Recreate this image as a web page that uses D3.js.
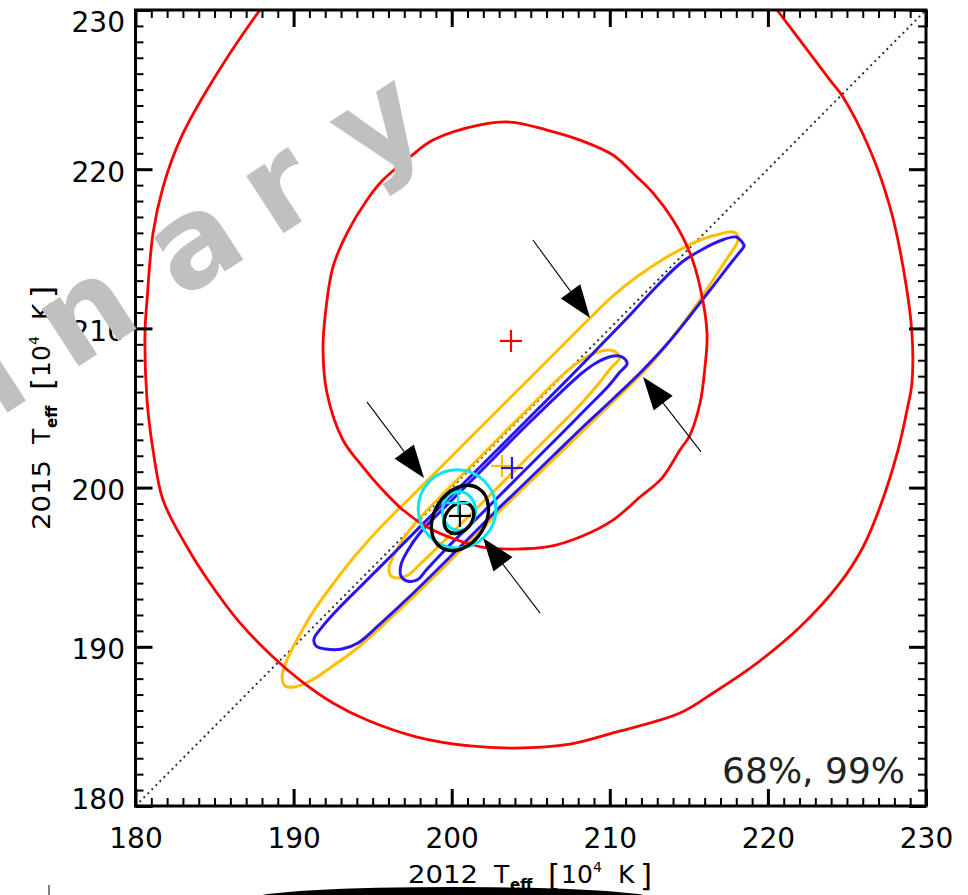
<!DOCTYPE html>
<html><head><meta charset="utf-8">
<script src="https://cdn.jsdelivr.net/npm/d3@7"></script>
<style>
body{margin:0;background:#fff;}
svg{display:block;}
</style></head><body>
<svg id="chart" width="968" height="895"></svg>
<script>
// ---------------- data ----------------
const xDomain = [180, 230];
const yDomain = [180, 230];
const majorTicks = [180, 190, 200, 210, 220, 230];
const xTitleYear = "2012";
const yTitleYear = "2015";
const confidenceLabel = "68%, 99%";
const watermarkHead = "Prelimi";
const watermarkTail = ["n", "a", "r", "y"];

// red: 68% and 99% contours
const redInner = [[203.69,222.96],[206.03,222.46],[208.12,221.83],[210.20,220.89],[211.72,219.51],[212.73,218.51],[214.00,216.81],[215.07,214.74],[215.71,212.60],[216.15,209.71],[216.02,207.58],[215.71,205.31],[215.07,203.30],[214.44,202.36],[213.30,200.60],[211.91,199.41],[210.20,197.96],[208.12,196.90],[206.03,196.27],[203.88,196.14],[202.23,196.21],[200.34,196.71],[198.44,197.53],[196.92,198.59],[195.46,200.04],[194.39,201.29],[193.12,202.99],[192.11,205.94],[191.86,208.64],[191.99,210.72],[192.49,213.86],[193.38,215.99],[194.64,218.07],[195.65,219.32],[197.36,220.77],[198.82,221.83],[201.79,222.78]];
const redOuter = [[187.87,230],[184.52,224.97],[182.81,221.83],[181.74,218.88],[181.11,215.99],[180.73,211.78],[180.60,209.71],[180.73,205.50],[181.11,202.36],[181.74,199.22],[183.26,196.27],[184.71,194.01],[186.61,191.50],[188.70,189.36],[190.40,187.91],[192.49,186.47],[194.64,185.40],[197.81,184.33],[201.16,183.77],[204.00,183.64],[207.48,183.89],[210.20,184.59],[214.44,185.84],[216.53,187.10],[219.31,188.98],[222.03,191.24],[224.56,194.01],[226.02,196.27],[227.09,198.78],[228.23,202.36],[228.80,204.87],[229.11,206.57],[229.11,209.71],[228.55,213.86],[227.72,217.63],[226.46,221.21],[224.75,224.54],[223.93,225.60],[220.58,230],[218.2,233.14],[209.4,235.03],[196.7,235.03],[190.4,233.14]];
// yellow: 68% and 99% contours
const yellowOuter = [[217.79,216.06],[216.97,215.93],[215.90,215.62],[214.76,215.11],[213.30,214.30],[211.78,213.29],[210.20,212.04],[208.75,210.65],[206.85,208.77],[204.95,206.88],[203.05,205.00],[201.16,203.12],[199.26,201.23],[197.36,199.35],[195.46,197.46],[193.88,195.70],[192.49,193.94],[191.23,192.19],[190.28,190.55],[189.58,189.17],[189.27,188.10],[189.46,187.54],[190.03,187.47],[191.04,187.85],[192.30,188.67],[193.88,189.80],[195.46,191.18],[197.36,192.94],[199.26,194.76],[201.16,196.65],[203.05,198.53],[204.95,200.35],[206.85,202.17],[208.75,204.00],[210.65,205.82],[212.42,207.58],[213.93,209.40],[215.39,211.34],[216.65,213.23],[217.60,214.67],[218.05,215.36],[218.11,215.80]];
const yellowInner = [[210.46,208.45],[209.95,208.64],[209.25,208.52],[208.43,208.14],[207.61,207.58],[206.53,206.63],[204.95,205.06],[203.05,203.18],[201.16,201.29],[199.26,199.41],[197.87,197.96],[196.98,196.83],[196.35,195.77],[196.03,194.95],[196.16,194.45],[196.60,194.32],[197.24,194.51],[198.01,195.20],[199.25,196.39],[200.97,198.09],[202.87,199.97],[204.77,201.86],[206.67,203.74],[208.17,205.25],[209.28,206.51],[210.07,207.51],[210.58,208.08]];
// blue: 68% and 99% contours
const blueOuter = [[218.36,215.43],[217.98,215.74],[217.10,215.55],[215.90,214.99],[214.57,214.17],[213.05,212.73],[211.28,210.84],[209.38,208.89],[207.48,206.95],[205.58,205.06],[203.69,203.18],[201.79,201.29],[199.89,199.41],[197.99,197.53],[196.10,195.64],[194.20,193.76],[192.81,192.37],[191.80,191.24],[191.29,190.49],[191.42,190.05],[192.05,189.86],[193.06,189.86],[194.07,190.24],[195.34,191.31],[197.05,192.88],[198.94,194.70],[200.84,196.58],[202.74,198.47],[204.64,200.29],[206.53,202.11],[208.43,203.93],[210.33,205.69],[212.10,207.39],[213.68,209.08],[215.07,210.78],[216.34,212.41],[217.41,213.79],[218.17,214.74],[218.49,215.18]];
const blueInner = [[210.96,208.08],[210.58,208.27],[209.95,208.20],[209.13,207.83],[208.24,207.20],[206.85,205.94],[204.95,204.12],[203.05,202.24],[201.16,200.35],[199.26,198.47],[197.99,197.15],[197.24,196.08],[196.79,195.14],[196.79,194.45],[197.17,194.13],[197.81,194.20],[198.45,194.89],[199.76,196.27],[201.61,198.09],[203.50,199.97],[205.40,201.86],[207.30,203.74],[208.80,205.25],[209.92,206.38],[210.64,207.26],[211.09,207.76]];
// cyan and black: compact contours (centre, semi-axes in data units, tilt in degrees)
const cyanContours = [
  {cx:200.34, cy:198.66, a:2.46, b:2.46, tilt:0},
  {cx:200.46, cy:198.53, a:1.05, b:1.22, tilt:0}
];
const blackContours = [
  {cx:200.52, cy:198.09, a:2.21, b:1.61, tilt:58},
  {cx:200.46, cy:198.09, a:1.08, b:0.82, tilt:50}
];
// best-fit positions
const bestFits = [
  {name:"red",    x:203.75, y:209.21},
  {name:"yellow", x:203.18, y:201.36},
  {name:"blue",   x:203.81, y:201.23},
  {name:"cyan",   x:200.40, y:199.03},
  {name:"black",  x:200.52, y:198.22}
];
// annotation arrows: tail -> tip
const arrowTails = [[205.14,215.55],[215.77,202.24],[194.64,205.38],[205.59,192.12]];
const arrowTips  = [[208.75,210.65],[212.10,206.95],[198.25,200.60],[201.98,196.83]];

const colors = {red:"#ff0000", yellow:"#ffbf00", blue:"#2a14f0", cyan:"#00e8f8", black:"#000000"};

// ---------------- layout ----------------
const svg = d3.select("#chart");
const L = 135.5, R = 926, T = 10, B = 806;
const x = d3.scaleLinear().domain(xDomain).range([L, R]);
const y = d3.scaleLinear().domain(yDomain).range([B, T]);
const FONT = "DejaVu Sans, Verdana, sans-serif";

svg.append("rect").attr("width",968).attr("height",895).attr("fill","#fff");

const defs = svg.append("defs");
defs.append("clipPath").attr("id","plotclip").append("rect")
  .attr("x",L).attr("y",T).attr("width",R-L).attr("height",B-T);

const plot = svg.append("g").attr("clip-path","url(#plotclip)");

// one-to-one diagonal
plot.append("line")
  .attr("x1",x(xDomain[0])).attr("y1",y(yDomain[0]))
  .attr("x2",x(xDomain[1])).attr("y2",y(yDomain[1]))
  .attr("stroke","#333").attr("stroke-width",2).attr("stroke-dasharray","2,3.7");

const line = d3.line().x(d=>x(d[0])).y(d=>y(d[1])).curve(d3.curveCatmullRomClosed.alpha(0.5));

function contour(data, color, w){
  plot.append("path").attr("d", line(data)).attr("fill","none")
    .attr("stroke", color).attr("stroke-width", w).attr("stroke-linejoin","round");
}
contour(yellowOuter, colors.yellow, 3);
contour(yellowInner, colors.yellow, 3);
contour(blueOuter, colors.blue, 3);
contour(blueInner, colors.blue, 3);
contour(redOuter, colors.red, 2.8);
contour(redInner, colors.red, 2.8);

function ellipses(list, color, w){
  list.forEach(e=>{
    const cx = x(e.cx), cy = y(e.cy);
    plot.append("ellipse").attr("cx",cx).attr("cy",cy)
      .attr("rx", x(e.cx+e.a)-cx).attr("ry", cy-y(e.cy+e.b))
      .attr("transform",`rotate(${-e.tilt},${cx},${cy})`)
      .attr("fill","none").attr("stroke",color).attr("stroke-width",w);
  });
}
ellipses(cyanContours, colors.cyan, 3);
ellipses(blackContours, colors.black, 3.4);

// best-fit crosses
const P = 11;
bestFits.forEach(p=>{
  const cx = x(p.x), cy = y(p.y);
  const g = plot.append("g").attr("stroke", colors[p.name]).attr("stroke-width",2.2);
  g.append("line").attr("x1",cx-P).attr("x2",cx+P).attr("y1",cy).attr("y2",cy);
  g.append("line").attr("x1",cx).attr("x2",cx).attr("y1",cy-P).attr("y2",cy+P);
});

// arrows
arrowTails.forEach((t,i)=>{
  const tip = arrowTips[i];
  const x0=x(t[0]), y0=y(t[1]), x1=x(tip[0]), y1=y(tip[1]);
  const dx=x1-x0, dy=y1-y0, len=Math.hypot(dx,dy), ux=dx/len, uy=dy/len;
  const HL=33, HW=12;
  const bx=x1-ux*HL, by=y1-uy*HL;
  plot.append("line").attr("x1",x0).attr("y1",y0).attr("x2",bx).attr("y2",by)
    .attr("stroke","#000").attr("stroke-width",1.1);
  plot.append("path").attr("d",`M${x1},${y1}L${bx-uy*HW},${by+ux*HW}L${bx+uy*HW},${by-ux*HW}Z`)
    .attr("fill","#000");
});

// ---------------- axes ----------------
function styleAxis(g, w){
  g.select(".domain").remove();
  g.selectAll(".tick line").attr("stroke","#000").attr("stroke-width",w);
}
const minorX = x.ticks(50), minorY = y.ticks(50);
// bottom
svg.append("g").attr("transform",`translate(0,${B})`)
  .call(d3.axisBottom(x).tickValues(minorX).tickSize(-8).tickFormat(""))
  .call(g=>styleAxis(g,2));
const xb = svg.append("g").attr("transform",`translate(0,${B})`)
  .call(d3.axisBottom(x).tickValues(majorTicks).tickSize(-17).tickPadding(22).tickFormat(d3.format("d")))
  .call(g=>styleAxis(g,3));
xb.selectAll("text").attr("font-family",FONT).attr("font-size",28).attr("fill","#000");
// top
svg.append("g").attr("transform",`translate(0,${T})`)
  .call(d3.axisTop(x).tickValues(minorX).tickSize(-8).tickFormat(""))
  .call(g=>styleAxis(g,2));
svg.append("g").attr("transform",`translate(0,${T})`)
  .call(d3.axisTop(x).tickValues(majorTicks).tickSize(-17).tickFormat(""))
  .call(g=>styleAxis(g,3));
// left
svg.append("g").attr("transform",`translate(${L},0)`)
  .call(d3.axisLeft(y).tickValues(minorY).tickSize(-8).tickFormat(""))
  .call(g=>styleAxis(g,2));
const yl = svg.append("g").attr("transform",`translate(${L},0)`)
  .call(d3.axisLeft(y).tickValues(majorTicks).tickSize(-17).tickPadding(10.5).tickFormat(d3.format("d")))
  .call(g=>styleAxis(g,3));
yl.selectAll("text").attr("font-family",FONT).attr("font-size",28).attr("fill","#000")
  .attr("dy", d => d===yDomain[1] ? "21px" : (d===yDomain[0] ? "2px" : "12px"));
// right
svg.append("g").attr("transform",`translate(${R},0)`)
  .call(d3.axisRight(y).tickValues(minorY).tickSize(-8).tickFormat(""))
  .call(g=>styleAxis(g,2));
svg.append("g").attr("transform",`translate(${R},0)`)
  .call(d3.axisRight(y).tickValues(majorTicks).tickSize(-17).tickFormat(""))
  .call(g=>styleAxis(g,3));
// frame
svg.append("rect").attr("x",L).attr("y",T).attr("width",R-L).attr("height",B-T)
  .attr("fill","none").attr("stroke","#000").attr("stroke-width",3);

// axis titles (pieces placed along the text direction)
function axisTitle(t, year){
  t.append("tspan").attr("x",0).attr("y",0).attr("textLength",70).attr("lengthAdjust","spacingAndGlyphs").text(year);
  t.append("tspan").attr("x",86).attr("y",0).text("T");
  t.append("tspan").attr("x",102).attr("y",7).attr("font-size",15).attr("font-weight","bold").text("eff");
  t.append("tspan").attr("x",140).attr("y",3).attr("font-size",31).text("[");
  t.append("tspan").attr("x",153).attr("y",0).text("10");
  t.append("tspan").attr("x",185).attr("y",-11).attr("font-size",14).text("4");
  t.append("tspan").attr("x",210).attr("y",0).text("K");
  t.append("tspan").attr("x",232).attr("y",3).attr("font-size",31).text("]");
}
const xt = svg.append("text").attr("transform","translate(408,883)")
  .attr("font-family",FONT).attr("font-size",25).attr("fill","#000");
axisTitle(xt, xTitleYear);
const yt = svg.append("text").attr("transform","translate(50,530) rotate(-90)")
  .attr("font-family",FONT).attr("font-size",25).attr("fill","#000");
axisTitle(yt, yTitleYear);

// confidence label
svg.append("text").attr("x",905).attr("y",783).attr("text-anchor","end")
  .attr("font-family",FONT).attr("font-size",36).attr("fill","#222").text(confidenceLabel);

// partial element cut off at the bottom of the page
svg.append("ellipse").attr("cx",453).attr("cy",898).attr("rx",198).attr("ry",11).attr("fill","#000");
svg.append("line").attr("x1",49).attr("x2",49).attr("y1",885).attr("y2",895).attr("stroke","#000").attr("stroke-width",1);

// watermark
const wmG = svg.append("g").attr("transform","translate(70,372) rotate(-33)")
  .attr("font-family","DejaVu Sans, sans-serif").attr("font-weight","bold")
  .attr("font-size",125).attr("fill","#c0c0c0");
wmG.append("text").attr("x",-8).attr("text-anchor","end").attr("letter-spacing",34).text(watermarkHead);
const tailX = [0, 132, 244, 352];
wmG.selectAll("text.tail").data(watermarkTail).join("text").attr("class","tail")
  .attr("x",(d,i)=>tailX[i]).text(d=>d);
</script>
</body></html>
